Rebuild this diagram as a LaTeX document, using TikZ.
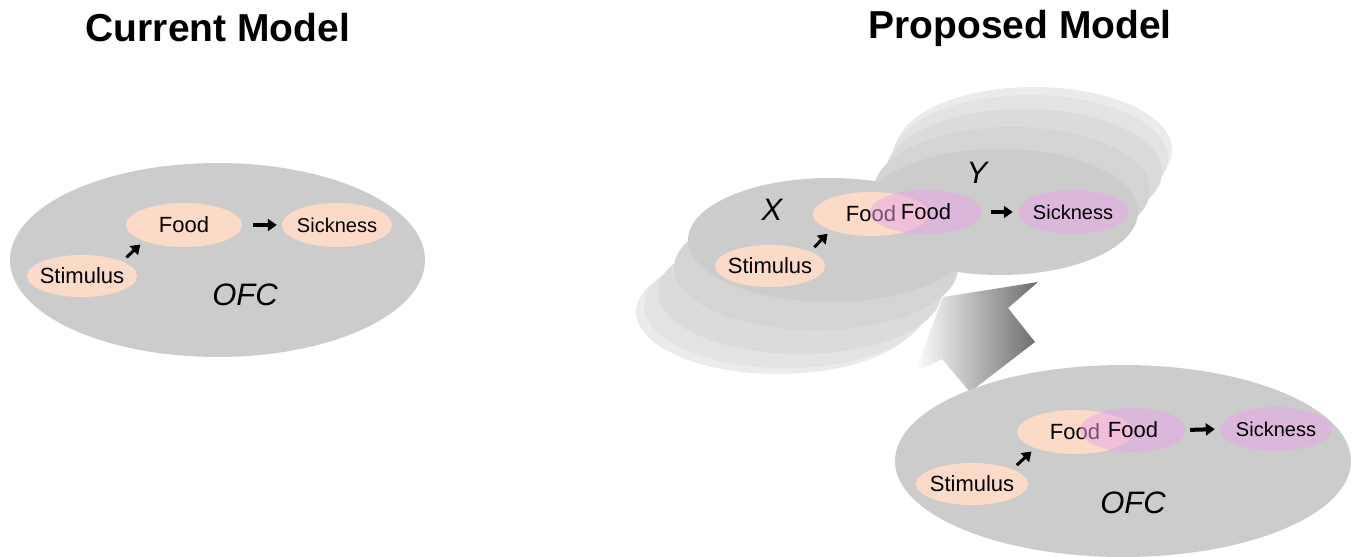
\documentclass[tikz,border=0pt]{standalone}
\usepackage{fontspec}
\setmainfont{Liberation Sans}
\usetikzlibrary{arrows.meta,shapes.geometric}

\definecolor{ofcgray}{RGB}{204,204,204}
\definecolor{peach}{RGB}{252,218,200}
\definecolor{lilac}{RGB}{234,166,234}

\tikzset{
	region/.style={ellipse,fill=ofcgray,inner sep=0pt},
	blob/.style={ellipse,inner sep=0pt,minimum width=#1,minimum height=44pt},
	cue/.style={blob=#1,fill=peach},
	outcome/.style={blob=#1,fill=lilac,fill opacity=0.5,text opacity=1},
	every label/.style={font=\fontsize{22}{22}\selectfont,inner sep=0pt,text=black},
	sick/.style={font=\fontsize{20}{20}\selectfont},
	tag/.style={font=\itshape\fontsize{31}{31}\selectfont},
	title/.style={font=\bfseries\fontsize{39}{39}\selectfont},
	arr/.style={-{Triangle[length=9pt,width=12pt]},line width=4pt}
}

\begin{document}
\begin{tikzpicture}[x=1pt,y=-1pt]
	\useasboundingbox (0,0) rectangle (1358,557);

	\node[title] (tcur) at (218,28)  {Current Model};
	\node[title] (tpro) at (1020,28) {Proposed Model};

	% current model
	\node[region,minimum width=415pt,minimum height=194pt] (cofc) at (217.5,260) {};
	\node[cue=110pt,minimum height=42pt,label=center:Stimulus] (cstim) at (82,276) {};
	\node[cue=116pt,label=center:Food] (cfood) at (184,225) {};
	\node[cue=110pt,label={[sick]center:Sickness}] (csick) at (337,225) {};
	\node[tag] (cofctxt) at (245,295) {OFC};

	% arrow from the OFC up to the X/Y pair
	\shade[left color=white,right color=black!58]
		(943,297) -- (1038,282) -- (1008,308) -- (1035,342) -- (970,392)
		-- (942,359) -- (915,372) -- cycle;

	% stacked copies behind X and Y
	\foreach \dx/\dy/\c in {-52/72/8, -44/66/11, -30/52/14, -14/28/17}
	{	\fill[black!\c] (830+\dx,240+\dy) ellipse [x radius=142,y radius=62];
	}
	\foreach \dx/\dy/\c in {34/-62/8, 30/-54/11, 24/-40/14, 12/-22/17}
	{	\fill[black!\c] (1000+\dx,212+\dy) ellipse [x radius=138,y radius=63];
	}
	\node[region,minimum width=276pt,minimum height=126pt] (yreg) at (1000,212) {};
	\node[region,minimum width=284pt,minimum height=124pt] (xreg) at (830,240) {};
	\node[tag] (xtxt) at (772,210) {X};
	\node[tag] (ytxt) at (977,173) {Y};
	\node[cue=110pt,minimum height=42pt,label=center:Stimulus] (xstim) at (770,266) {};
	\node[cue=116pt,label=center:Food] (xfood) at (871,214) {};
	\node[outcome=112pt,label=center:Food] (yfood) at (926,212) {};
	\node[outcome=110pt,label={[sick]center:Sickness}] (ysick) at (1073,212) {};

	% proposed OFC
	\node[region,minimum width=456pt,minimum height=192pt] (pofc) at (1123,461) {};
	\node[cue=112pt,minimum height=42pt,label=center:Stimulus] (pstim) at (972,484) {};
	\node[cue=116pt,label=center:Food] (pfood) at (1075,432) {};
	\node[outcome=106pt,label=center:Food] (pfood2) at (1133,430) {};
	\node[outcome=112pt,label={[sick]center:Sickness}] (psick) at (1276,429) {};
	\node[tag] (pofctxt) at (1133,503) {OFC};

	\def\diag {cstim/cfood, xstim/xfood, pstim/pfood}  % stimulus -> food
	\foreach \u\v in \diag
	{	\draw[arr,line width=3pt,shorten <=6pt,shorten >=5pt] (\u.20) -- (\v.202);
	}
	\def\flat {cfood/csick/11, yfood/ysick/9, pfood2/psick/4}  % food -> sickness
	\foreach \u\v\gap in \flat
	{	\draw[arr,shorten <=\gap pt,shorten >=5pt] (\u.east) -- (\v.west);
	}
\end{tikzpicture}
\end{document}
